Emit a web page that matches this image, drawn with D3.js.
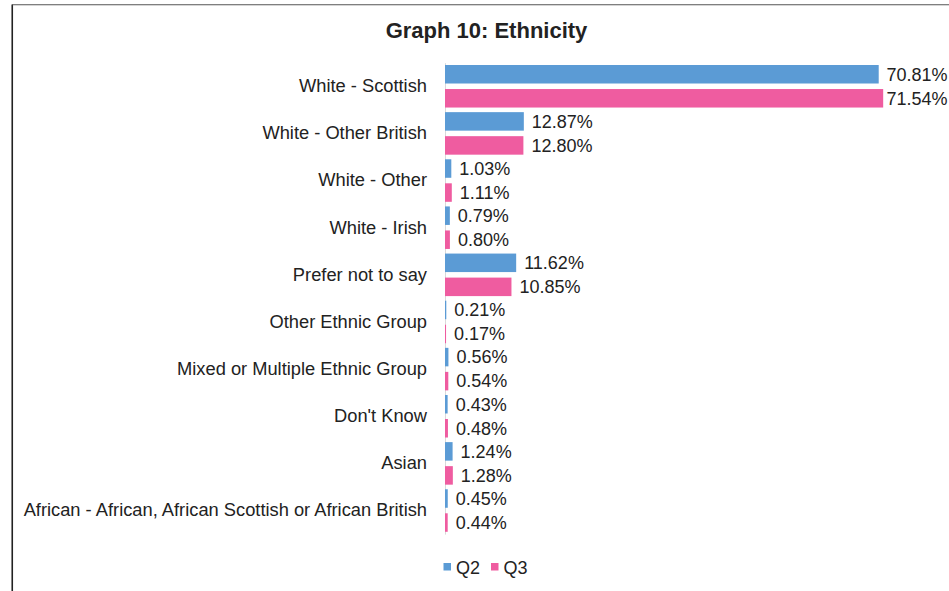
<!DOCTYPE html>
<html>
<head>
<meta charset="utf-8">
<script src="https://cdn.jsdelivr.net/npm/d3@7/dist/d3.min.js"></script>
<style>
  html, body { margin: 0; padding: 0; background: #fff; }
  svg { display: block; }
  text { font-family: "Liberation Sans", Arial, sans-serif; fill: #222; }
</style>
</head>
<body>
<svg id="chart" width="949" height="591"></svg>
<script>
// Ethnicity breakdown, Q2 vs Q3 (percent of respondents)
const categories = [
  "White - Scottish",
  "White - Other British",
  "White - Other",
  "White - Irish",
  "Prefer not to say",
  "Other Ethnic Group",
  "Mixed or Multiple Ethnic Group",
  "Don't Know",
  "Asian",
  "African - African, African Scottish or African British"
];
const seriesNames = ["Q2", "Q3"];
const q2Values = [70.81, 12.87, 1.03, 0.79, 11.62, 0.21, 0.56, 0.43, 1.24, 0.45];
const q3Values = [71.54, 12.80, 1.11, 0.80, 10.85, 0.17, 0.54, 0.48, 1.28, 0.44];
const seriesColors = ["#5B9BD5", "#EF5CA0"];

const seriesValues = [q2Values, q3Values];
const rows = categories.map((c, i) => ({
  category: c,
  values: seriesNames.map((s, j) => ({ series: s, value: seriesValues[j][i], idx: j }))
}));

const W = 949;
const svg = d3.select("#chart");

// Chart frame (left and top edges)
svg.append("line")
  .attr("x1", 12.25).attr("x2", 12.25).attr("y1", 4.5).attr("y2", 591)
  .attr("stroke", "#222").attr("stroke-width", 1.6);
svg.append("line")
  .attr("x1", 12).attr("x2", W).attr("y1", 4.75).attr("y2", 4.75)
  .attr("stroke", "#555").attr("stroke-width", 1.2);

// Title
svg.append("text")
  .attr("x", 486.5).attr("y", 37.5)
  .attr("text-anchor", "middle")
  .style("font-weight", "bold")
  .style("font-size", "22px")
  .text("Graph 10: Ethnicity");

// Scales
const x = d3.scaleLinear().domain([0, 80]).range([445, 935]);
const y = d3.scaleBand().domain(categories).range([62.7, 534.1]).paddingInner(0).paddingOuter(0);
const ySub = d3.scaleBand().domain(seriesNames).range([0, y.bandwidth()])
  .paddingInner(0.23).paddingOuter(0.096);
const color = d3.scaleOrdinal().domain(seriesNames).range(seriesColors);

// Category axis (labels only, with a light baseline)
const yAxis = d3.axisLeft(y).tickSize(0).tickPadding(18);
const gAxis = svg.append("g")
  .attr("transform", `translate(${x(0)},0)`)
  .call(yAxis);
gAxis.select(".domain").attr("stroke", "#d9d9d9").attr("stroke-width", 1);
gAxis.selectAll("text")
  .style("font-size", "18.3px")
  .style("font-family", "'Liberation Sans', Arial, sans-serif")
  .attr("fill", "#222");

// Bars
const groups = svg.append("g").selectAll("g")
  .data(rows)
  .join("g")
  .attr("transform", d => `translate(0,${y(d.category)})`);

groups.selectAll("rect")
  .data(d => d.values)
  .join("rect")
  .attr("x", x(0))
  .attr("y", d => ySub(d.series))
  .attr("width", d => x(d.value) - x(0))
  .attr("height", ySub.bandwidth())
  .attr("fill", d => color(d.series));

// Value labels, kept inside the right edge of the chart area
groups.selectAll("text.val")
  .data(d => d.values)
  .join("text")
  .attr("class", "val")
  .attr("x", d => x(d.value) + 8)
  .attr("y", d => ySub(d.series) + ySub.bandwidth() / 2)
  .attr("dy", "0.35em")
  .style("font-size", "18px")
  .text(d => d.value.toFixed(2) + "%")
  .each(function () {
    const box = this.getBBox();
    const overflow = box.x + box.width - (W - 1.5);
    if (overflow > 0) d3.select(this).attr("x", box.x - overflow);
  });

// Legend
const legend = svg.append("g");
const legendItems = [
  { name: "Q2", sx: 443.5, tx: 456 },
  { name: "Q3", sx: 491, tx: 503.5 }
];
legendItems.forEach(item => {
  legend.append("rect")
    .attr("x", item.sx).attr("y", 563)
    .attr("width", 7.5).attr("height", 7.5)
    .attr("fill", color(item.name));
  legend.append("text")
    .attr("x", item.tx).attr("y", 573.5)
    .style("font-size", "18px")
    .text(item.name);
});
</script>
</body>
</html>
